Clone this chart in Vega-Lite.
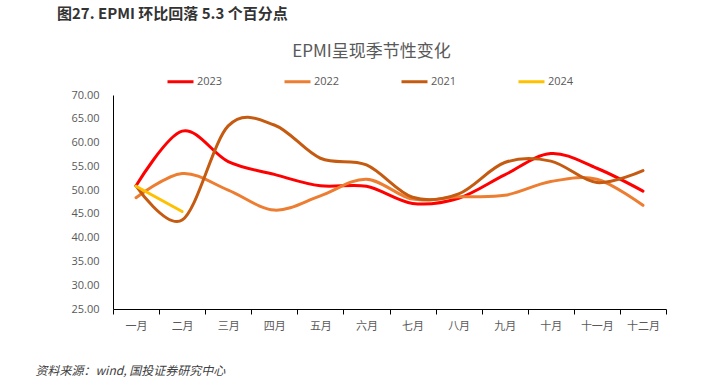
{
  "$schema": "https://vega.github.io/schema/vega-lite/v6.json",
  "autosize": "none",
  "width": 553,
  "height": 214,
  "padding": {"left": 113, "top": 95, "right": 47, "bottom": 80},
  "background": "white",
  "title": {
    "text": "图27. EPMI 环比回落 5.3 个百分点",
    "anchor": "start",
    "frame": "group",
    "dx": -56,
    "offset": 20,
    "font": "Noto Sans CJK SC",
    "fontSize": 15,
    "fontWeight": "bold",
    "color": "#333333"
  },
  "config": {
    "view": {"stroke": null},
    "font": "Noto Sans CJK SC"
  },
  "data": {
    "values": [
      {"month": "一月", "year": "2023", "value": 50.9},
      {"month": "二月", "year": "2023", "value": 62.4},
      {"month": "三月", "year": "2023", "value": 56.0},
      {"month": "四月", "year": "2023", "value": 53.3},
      {"month": "五月", "year": "2023", "value": 50.9},
      {"month": "六月", "year": "2023", "value": 50.8},
      {"month": "七月", "year": "2023", "value": 47.2},
      {"month": "八月", "year": "2023", "value": 48.3},
      {"month": "九月", "year": "2023", "value": 53.2},
      {"month": "十月", "year": "2023", "value": 57.7},
      {"month": "十一月", "year": "2023", "value": 54.6},
      {"month": "十二月", "year": "2023", "value": 49.8},
      {"month": "一月", "year": "2022", "value": 48.4},
      {"month": "二月", "year": "2022", "value": 53.5},
      {"month": "三月", "year": "2022", "value": 50.0},
      {"month": "四月", "year": "2022", "value": 45.8},
      {"month": "五月", "year": "2022", "value": 48.8},
      {"month": "六月", "year": "2022", "value": 52.3},
      {"month": "七月", "year": "2022", "value": 48.1},
      {"month": "八月", "year": "2022", "value": 48.6},
      {"month": "九月", "year": "2022", "value": 48.9},
      {"month": "十月", "year": "2022", "value": 51.8},
      {"month": "十一月", "year": "2022", "value": 52.3},
      {"month": "十二月", "year": "2022", "value": 46.8},
      {"month": "一月", "year": "2021", "value": 50.9},
      {"month": "二月", "year": "2021", "value": 43.7},
      {"month": "三月", "year": "2021", "value": 63.5},
      {"month": "四月", "year": "2021", "value": 63.7},
      {"month": "五月", "year": "2021", "value": 56.7},
      {"month": "六月", "year": "2021", "value": 55.3},
      {"month": "七月", "year": "2021", "value": 48.5},
      {"month": "八月", "year": "2021", "value": 49.2},
      {"month": "九月", "year": "2021", "value": 55.8},
      {"month": "十月", "year": "2021", "value": 56.1},
      {"month": "十一月", "year": "2021", "value": 51.6},
      {"month": "十二月", "year": "2021", "value": 54.1},
      {"month": "一月", "year": "2024", "value": 50.8},
      {"month": "二月", "year": "2024", "value": 45.5}
    ]
  },
  "mark": {"type": "line", "interpolate": "cardinal", "strokeWidth": 3, "strokeCap": "round"},
  "encoding": {
    "x": {
      "field": "month",
      "type": "ordinal",
      "sort": ["一月", "二月", "三月", "四月", "五月", "六月", "七月", "八月", "九月", "十月", "十一月", "十二月"],
      "scale": {"type": "band", "paddingInner": 0, "paddingOuter": 0},
      "axis": {
        "title": "资料来源：wind, 国投证券研究中心",
        "titleX": -78,
        "titleY": 61,
        "titleAlign": "left",
        "titleBaseline": "middle",
        "titleAngle": 0,
        "titleFont": "Noto Sans CJK SC",
        "titleFontSize": 12,
        "titleFontWeight": "normal",
        "titleFontStyle": "italic",
        "titleColor": "#404040",
        "tickBand": "extent",
        "domainColor": "#000000",
        "domainWidth": 1,
        "tickColor": "#000000",
        "tickSize": 5,
        "labelAngle": 0,
        "labelPadding": 6,
        "labelFont": "Noto Sans CJK SC",
        "labelFontSize": 11,
        "labelColor": "#595959",
        "grid": false
      }
    },
    "y": {
      "field": "value",
      "type": "quantitative",
      "scale": {"domain": [25, 70], "nice": false, "zero": false},
      "axis": {
        "values": [25, 30, 35, 40, 45, 50, 55, 60, 65, 70],
        "format": ".2f",
        "grid": false,
        "ticks": false,
        "domainColor": "#000000",
        "domainWidth": 1,
        "labelPadding": 14,
        "labelFont": "Open Sans",
        "labelFontSize": 11,
        "labelColor": "#595959",
        "title": "EPMI呈现季节性变化",
        "titleAngle": 0,
        "titleX": 258,
        "titleY": -44,
        "titleAlign": "center",
        "titleBaseline": "middle",
        "titleFont": "Noto Sans CJK SC",
        "titleFontSize": 17,
        "titleFontWeight": "normal",
        "titleColor": "#595959"
      }
    },
    "color": {
      "field": "year",
      "type": "nominal",
      "scale": {"domain": ["2023", "2022", "2021", "2024"], "range": ["#FF0000", "#ED7D31", "#C55A11", "#FFC000"]},
      "legend": {
        "title": null,
        "orient": "none",
        "legendX": 53,
        "legendY": -28,
        "direction": "horizontal",
        "columns": 4,
        "columnPadding": 55,
        "padding": 0,
        "symbolType": "stroke",
        "symbolSize": 676,
        "symbolStrokeWidth": 3,
        "labelOffset": 2,
        "labelFont": "Open Sans",
        "labelFontSize": 11,
        "labelColor": "#595959"
      }
    }
  }
}
